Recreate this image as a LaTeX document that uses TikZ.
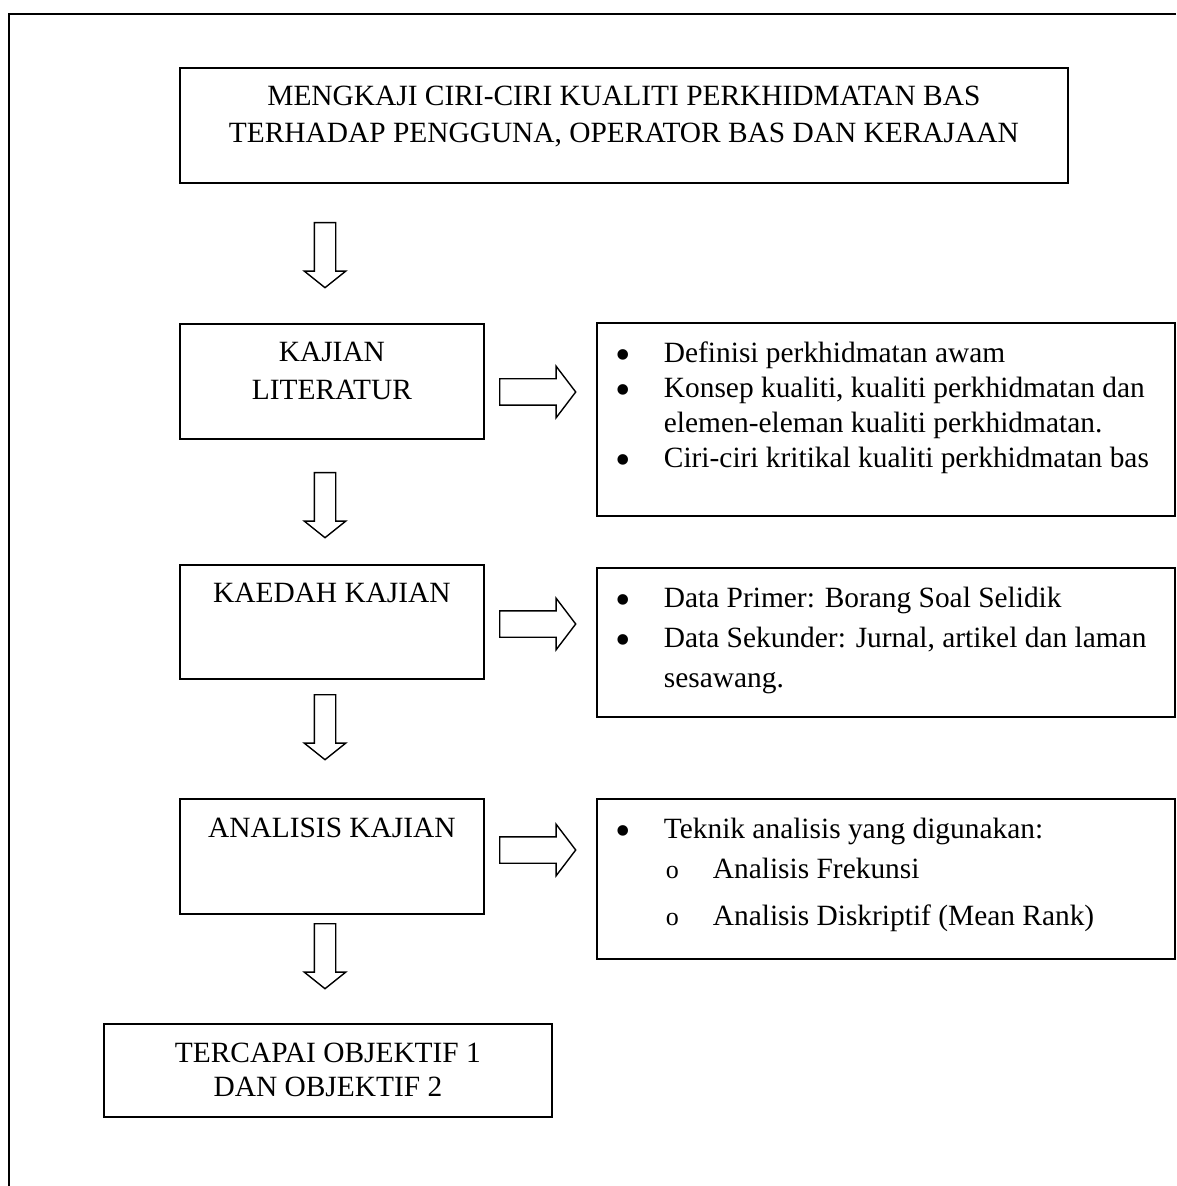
\documentclass[tikz,border=0pt]{standalone}
\usepackage{fontspec}
\setmainfont{Liberation Serif}
\usetikzlibrary{shapes.arrows}

\newcommand{\stagetext}[5]{\parbox[c][#2][t]{#1}{\fontsize{14.7pt}{#4}\selectfont\centering
  \vspace*{\dimexpr#3-12pt\relax}\rule{0pt}{12pt}#5}}
\newcommand{\listtext}[5]{\parbox[c][#2][t]{#1}{\fontsize{14.7pt}{#4}\selectfont\raggedright
  \vspace*{\dimexpr#3-12pt\relax}#5}}
\newcommand{\bitem}[1]{\par\hangindent=33.5pt\hangafter=1\noindent
  \makebox[33.5pt][l]{\hspace{9.2pt}\rule{0pt}{12pt}\smash{\raisebox{-3.2pt}{\scalebox{1.5}{\textbullet}}}}#1}
\newcommand{\sitem}[1]{\par\hangindent=58pt\hangafter=1\noindent
  \makebox[58pt][l]{\hspace{34.5pt}\rule{0pt}{12pt}\smash{\fontsize{13pt}{13pt}\selectfont o}}#1}

\begin{document}
\begin{tikzpicture}[x=0.5pt,y=-0.5pt,semithick,
  box/.style={shape=rectangle, draw=black, line width=0.9pt, inner sep=0pt, anchor=north west},
  downarr/.style={single arrow, draw=black, line width=0.7pt, shape border rotate=270,
    inner sep=5pt, single arrow head extend=5pt,
    single arrow tip angle=102.7, minimum height=32.5pt, anchor=tail},
  rightarr/.style={single arrow, draw=black, line width=0.7pt,
    inner sep=6.25pt, single arrow head extend=6.25pt,
    single arrow tip angle=105.5, minimum height=38pt, anchor=tail}]
\useasboundingbox (0,0) rectangle (1176,1186);
\draw[line width=0.9pt] (1176,14) -- (9,14) -- (9,1186);

\node[box] (obj) at (179,67) {\stagetext{444pt}{57.5pt}{19pt}{18.5pt}{MENGKAJI CIRI-CIRI KUALITI PERKHIDMATAN BAS\\TERHADAP PENGGUNA, OPERATOR BAS DAN KERAJAAN}};
\node[box] (lit) at (179,323) {\stagetext{152pt}{57.5pt}{19pt}{19pt}{KAJIAN\\LITERATUR}};
\node[box] (kaedah) at (179,564) {\stagetext{152pt}{57pt}{19pt}{19pt}{KAEDAH KAJIAN}};
\node[box] (analisis) at (179,798) {\stagetext{152pt}{57.5pt}{19.5pt}{19pt}{ANALISIS KAJIAN}};
\node[box] (capai) at (103,1023) {\stagetext{224pt}{46.5pt}{19.5pt}{17pt}{TERCAPAI OBJEKTIF 1\\DAN OBJEKTIF 2}};

\node[box] (litx) at (596,322) {\listtext{289pt}{96.5pt}{20pt}{17.5pt}{%
  \bitem{Definisi perkhidmatan awam}
  \bitem{Konsep kualiti, kualiti perkhidmatan dan\newline elemen-eleman kualiti perkhidmatan.}
  \bitem{Ciri-ciri kritikal kualiti perkhidmatan bas}}};
\node[box] (kaedahx) at (596,567) {\listtext{289pt}{74.5pt}{20pt}{20pt}{%
  \bitem{Data Primer: Borang Soal Selidik}
  \bitem{Data Sekunder: Jurnal, artikel dan laman\newline sesawang.}}};
\node[box] (analisisx) at (596,798) {\listtext{289pt}{80pt}{20pt}{20pt}{%
  \bitem{Teknik analisis yang digunakan:}
  \sitem{Analisis Frekunsi}\par\vspace{3.5pt}
  \sitem{Analisis Diskriptif (Mean Rank)}}};

\node[downarr] (a1) at (325,222) {};
\node[downarr] (a2) at (325,472) {};
\node[downarr] (a3) at (325,694) {};
\node[downarr] (a4) at (325,923) {};
\node[rightarr] (b1) at (499,392) {};
\node[rightarr] (b2) at (499,624) {};
\node[rightarr] (b3) at (499,850) {};
\end{tikzpicture}
\end{document}
